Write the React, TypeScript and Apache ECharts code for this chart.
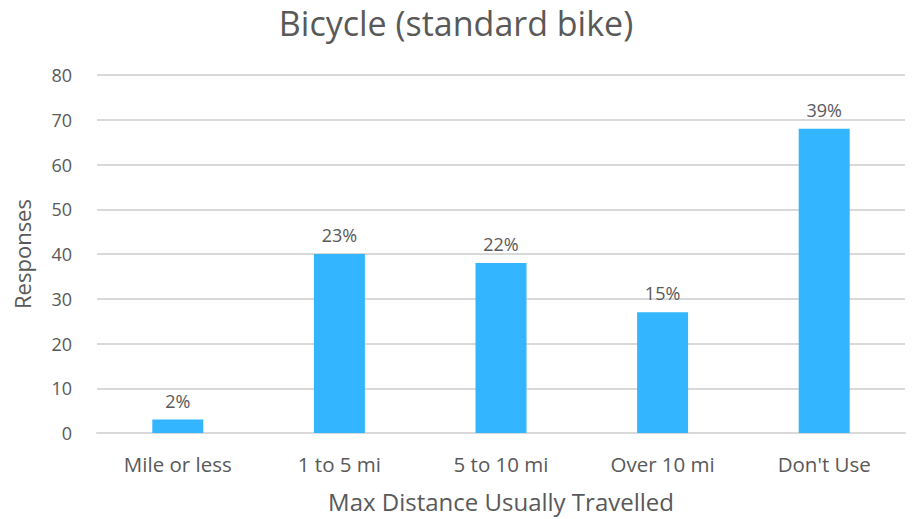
import React, { useEffect, useRef } from "react";
import * as echarts from "echarts";

const categories = ["Mile or less", "1 to 5 mi", "5 to 10 mi", "Over 10 mi", "Don't Use"];
const responses = [3, 40, 38, 27, 68];
const percentLabels = ["2%", "23%", "22%", "15%", "39%"];

const FONT = "Open Sans";
const TEXT = "#595959";

export default function App() {
  const ref = useRef<HTMLDivElement>(null);
  useEffect(() => {
    if (!ref.current) return;
    const chart = echarts.init(ref.current, null, { renderer: "svg" });
    chart.setOption({
      animation: false,
      backgroundColor: "#ffffff",
      textStyle: { fontFamily: FONT, color: TEXT },
      title: {
        text: "Bicycle (standard bike)",
        left: "center",
        top: 1,
        textStyle: { fontFamily: FONT, fontSize: 34, fontWeight: "normal", color: TEXT },
      },
      grid: { left: 97, right: 7, top: 75, bottom: 86, containLabel: false },
      xAxis: {
        type: "category",
        data: categories,
        name: "Max Distance Usually Travelled",
        nameLocation: "middle",
        nameGap: 56,
        nameTextStyle: { fontFamily: FONT, fontSize: 24, color: TEXT },
        axisLine: { lineStyle: { color: "#d9d9d9", width: 2 } },
        axisTick: { show: false },
        axisLabel: { fontFamily: FONT, fontSize: 20.5, color: TEXT, margin: 20 },
      },
      yAxis: {
        type: "value",
        min: 0,
        max: 80,
        interval: 10,
        name: "Responses",
        nameLocation: "middle",
        nameGap: 64,
        nameTextStyle: { fontFamily: FONT, fontSize: 22, color: TEXT },
        axisLine: { show: false },
        axisTick: { show: false },
        axisLabel: { fontFamily: FONT, fontSize: 18, color: TEXT, margin: 25 },
        splitLine: { lineStyle: { color: "#d9d9d9", width: 2 } },
      },
      series: [
        {
          type: "bar",
          data: responses,
          barWidth: 51,
          itemStyle: { color: "#33b5ff" },
          label: {
            show: true,
            position: "top",
            distance: 10,
            fontFamily: FONT,
            fontSize: 18,
            color: TEXT,
            formatter: (p: any) => percentLabels[p.dataIndex],
          },
        },
      ],
    });
    return () => chart.dispose();
  }, []);
  return <div ref={ref} style={{ width: 912, height: 519, position: "absolute", left: 0, top: 0 }} />;
}
